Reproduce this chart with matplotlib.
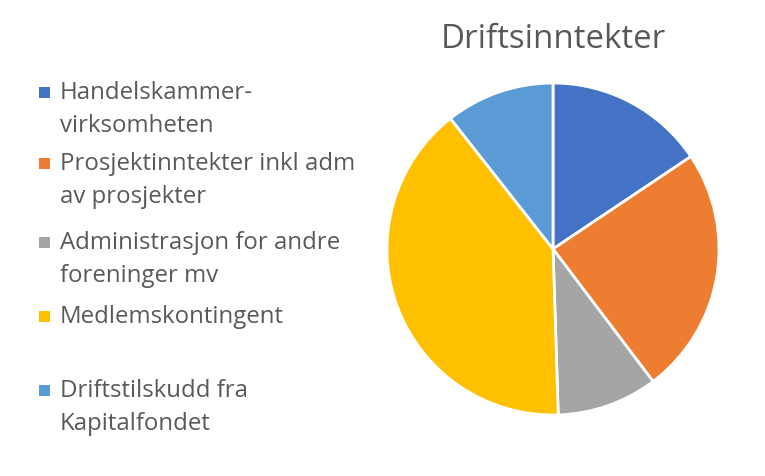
import matplotlib.pyplot as plt
from matplotlib.patches import Rectangle

plt.rcParams['font.family'] = ['Open Sans', 'DejaVu Sans']

# data
labels = ['Handelskammer-\nvirksomheten',
          'Prosjektinntekter inkl adm\nav prosjekter',
          'Administrasjon for andre\nforeninger mv',
          'Medlemskontingent',
          'Driftstilskudd fra\nKapitalfondet']
values = [15.6, 24.1, 9.8, 39.9, 10.6]
colors = ['#4472C4', '#ED7D31', '#A5A5A5', '#FFC000', '#5B9BD5']
title = 'Driftsinntekter'

W, H = 765, 477
fig = plt.figure(figsize=(W / 100, H / 100), dpi=100)

# pie, centre (553, 250) px, radius 166 px
cx, cy, r = 553, 250, 166
ax = fig.add_axes([(cx - r) / W, (H - cy - r) / H, 2 * r / W, 2 * r / H])
ax.pie(values, colors=colors, startangle=90, counterclock=False, radius=1,
       wedgeprops=dict(edgecolor='white', linewidth=2))
ax.set_xlim(-1, 1)
ax.set_ylim(-1, 1)
ax.set_aspect('equal')
ax.axis('off')

fig.text(cx / W, 1 - 39 / H, title, ha='center', va='center',
         fontsize=23.8, color='#595959')

# legend drawn by hand
ys = [93, 164, 243, 317, 391]
for lab, col, y in zip(labels, colors, ys):
    fig.patches.append(Rectangle((39 / W, 1 - (y + 5.5) / H), 11 / W, 11 / H,
                                 transform=fig.transFigure, facecolor=col,
                                 edgecolor='none'))
    for i, line in enumerate(lab.split('\n')):
        fig.text(60 / W, 1 - (y + 33 * i) / H, line, ha='left',
                 va='center', fontsize=17.3, color='#595959')

fig.savefig('out.png', dpi=100)
